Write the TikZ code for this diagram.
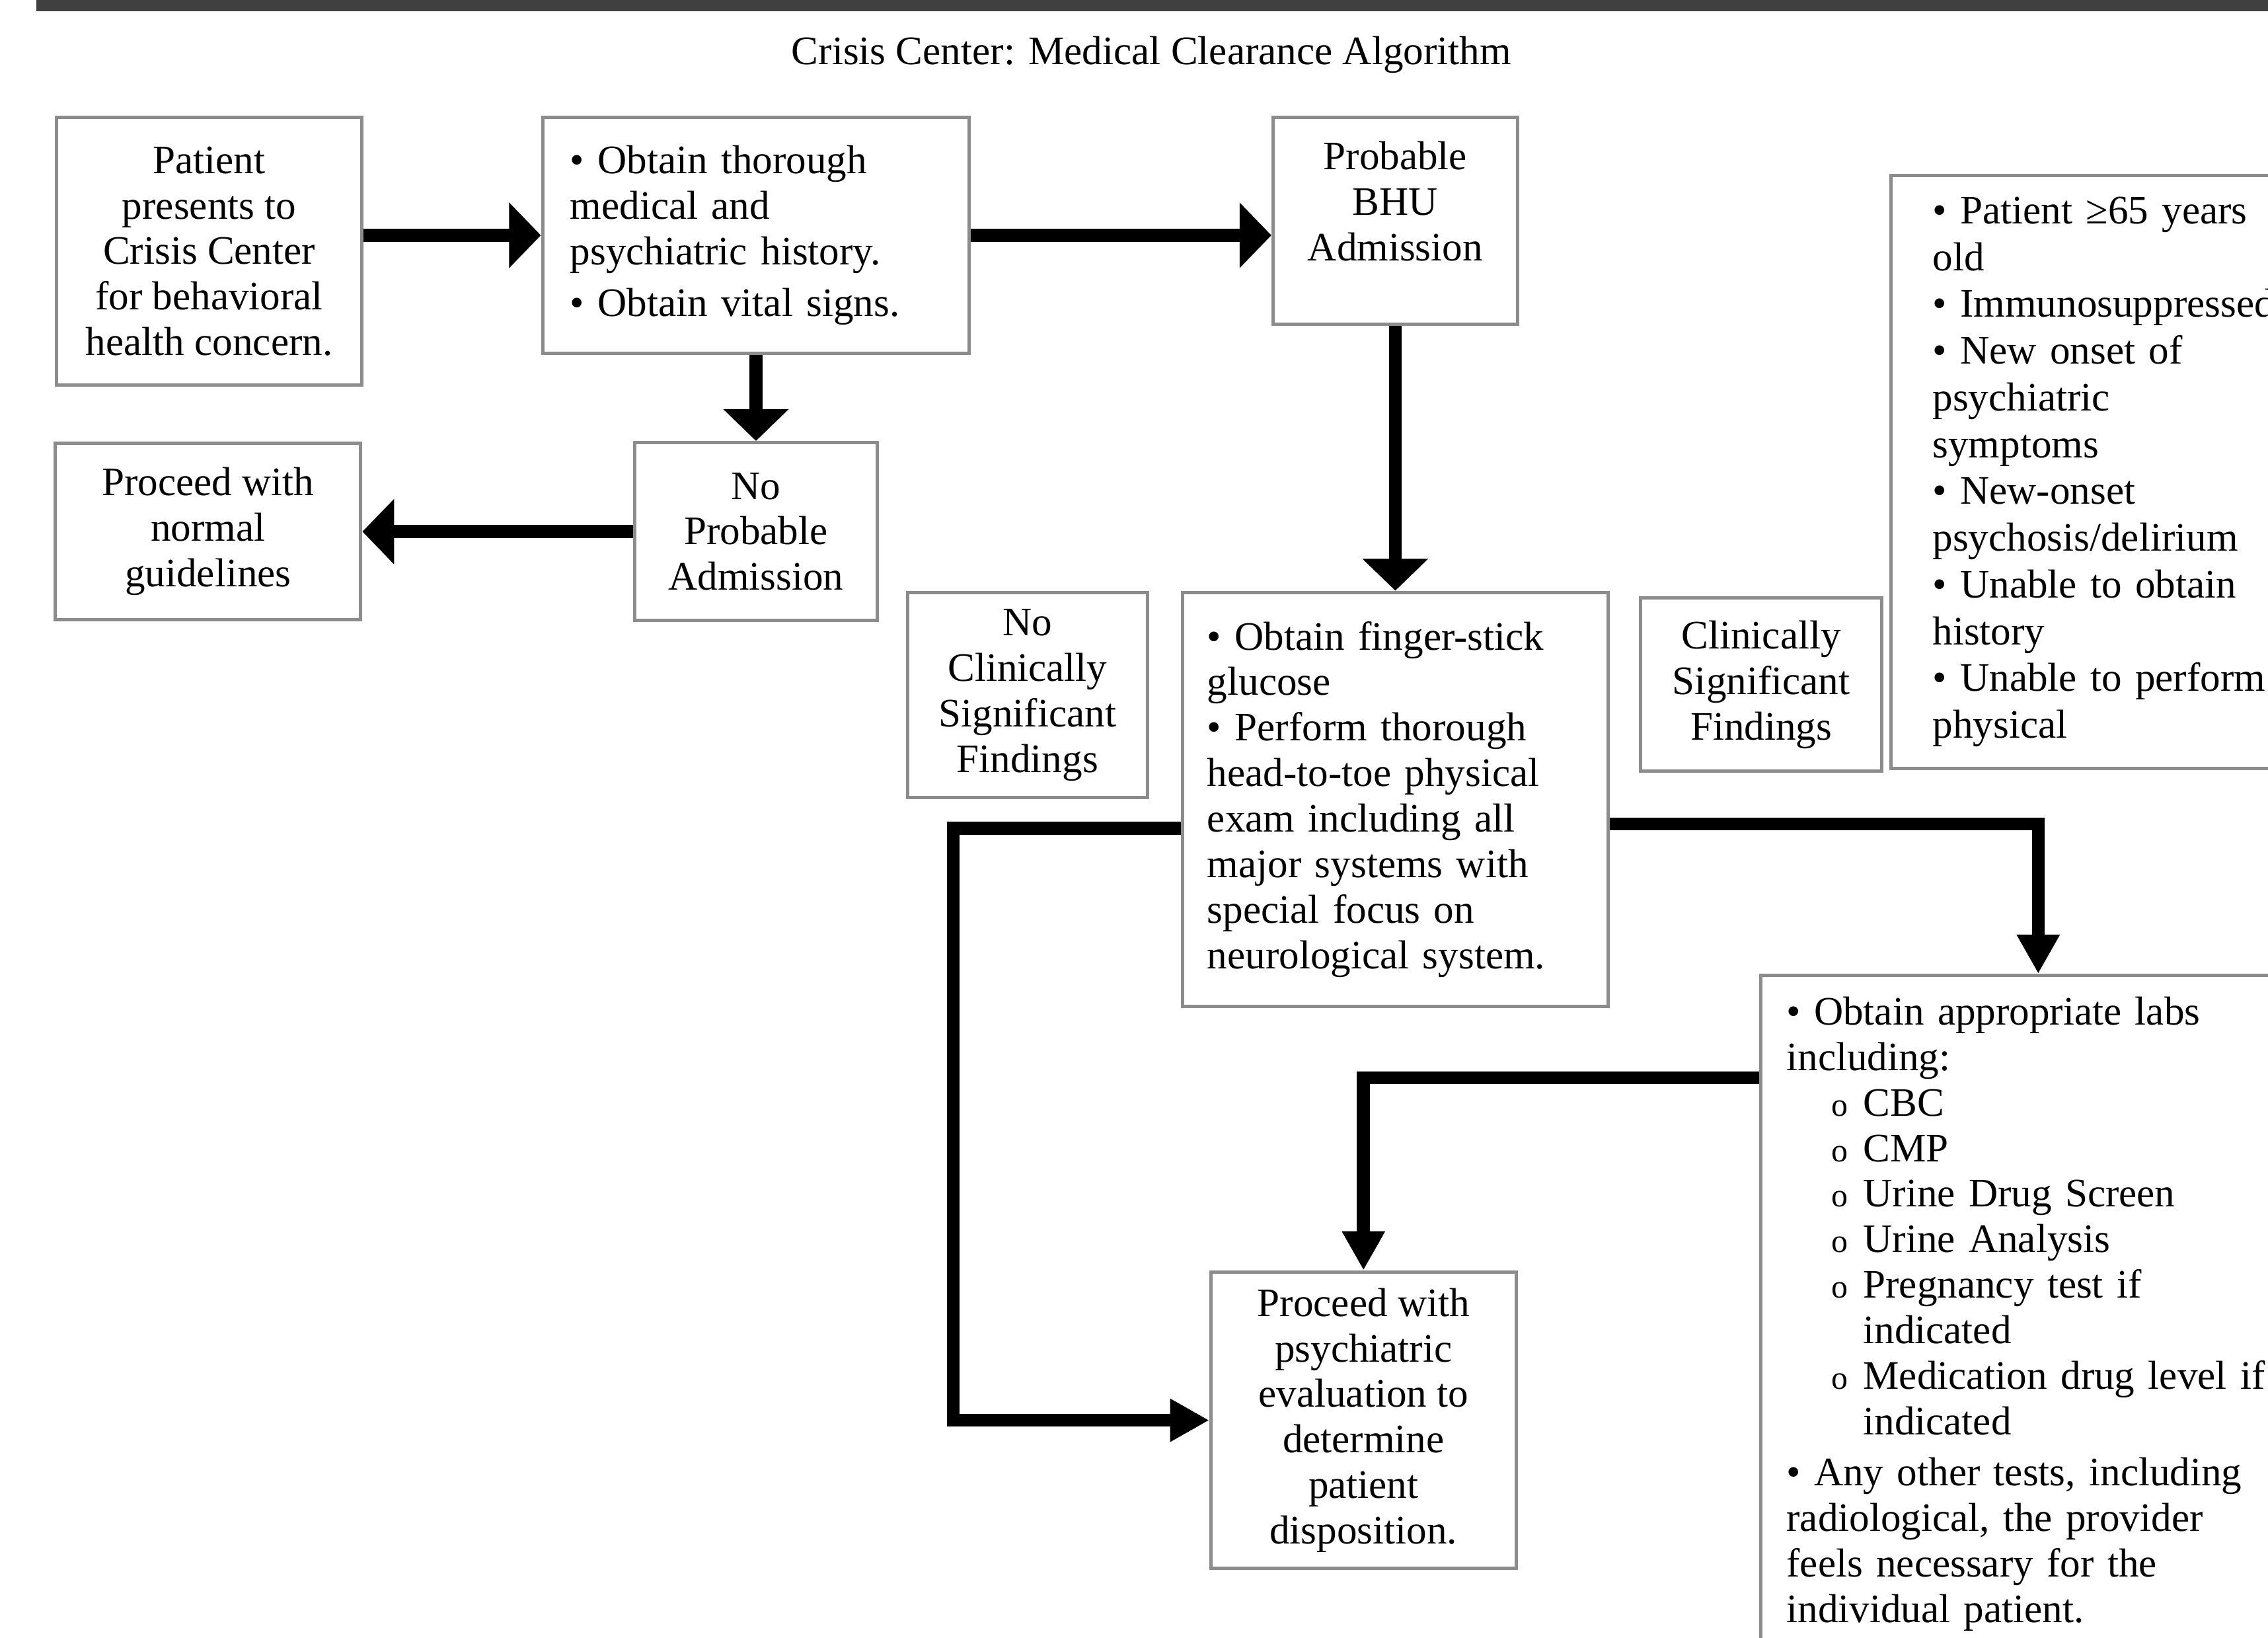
\documentclass[tikz,border=0pt]{standalone}
\usepackage{fontspec}
\setmainfont{Liberation Serif}
\usetikzlibrary{arrows.meta,positioning}
\definecolor{boxGray}{RGB}{140,140,140}
\definecolor{barGray}{RGB}{64,64,64}
\newcommand{\labitem}{\hspace*{6.2mm}\makebox[4.4mm][l]{\fontsize{13pt}{13pt}\selectfont o}}
\tikzset{
  flow box/.style={draw=boxGray,line width=1.3pt,fill=white,align=center,font=\fontsize{15.9pt}{17.9pt}\selectfont,inner sep=0pt},
  flow list/.style={flow box,align=left},
  flow arrow/.style={-{Triangle[length=4.4mm,width=8.8mm]},line width=5.1pt,draw=black},
  flow arrow small/.style={-{Triangle[length=5.4mm,width=5.6mm]},line width=5.1pt,draw=black}
}

\begin{document}
\begin{tikzpicture}[x=0.2mm,y=-0.2mm]
  \useasboundingbox (0,0) rectangle (1568,1132);
  \clip (0,0) rectangle (1568,1132);
  \fill[barGray] (25,0) rectangle (1568,8);
  \node[font=\fontsize{15.9pt}{17.9pt}\selectfont] (title) at (796,38) {Crisis Center: Medical Clearance Algorithm};
  % top row
  \node[flow box,minimum width=4.22cm,minimum height=3.7cm,anchor=north west] (patient) at (38,80) {Patient\\presents to\\Crisis Center\\for behavioral\\health concern.};
  \node[flow list,text width=5.14cm,inner xsep=3.8mm,minimum height=3.26cm,anchor=north west] (history) at (374,80) {• Obtain thorough\\medical and\\psychiatric history.\\[0.8mm]• Obtain vital signs.};
  \node[flow box,minimum width=3.38cm,minimum height=2.86cm,anchor=north west] (bhu) at (879,80) {Probable\\BHU\\Admission\\[-2.7mm]\strut};
  \node[flow list,text width=5.2cm,inner xsep=5.8mm,minimum height=8.2cm,anchor=north west,font=\fontsize{15.9pt}{18.4pt}\selectfont] (risk) at (1306,120) {• Patient ≥65 years\\old\\• Immunosuppressed\\• New onset of\\psychiatric\\symptoms\\• New-onset\\psychosis/delirium\\• Unable to obtain\\history\\• Unable to perform\\physical};
  % no admission branch
  \node[flow box,minimum width=3.36cm,minimum height=2.46cm,below=1.19cm of history] (noadmit) {No\\Probable\\Admission};
  \node[flow box,minimum width=4.22cm,minimum height=2.44cm,left=3.74cm of noadmit] (normal) {Proceed with\\normal\\guidelines};
  % exam and findings
  \node[flow list,text width=5.2cm,inner xsep=3.4mm,minimum height=5.72cm,below=3.66cm of bhu] (exam) {• Obtain finger-stick\\glucose\\• Perform thorough\\head-to-toe physical\\exam including all\\major systems with\\special focus on\\neurological system.};
  \node[flow box,minimum width=3.32cm,minimum height=2.84cm,left=4.4mm of exam.north west,anchor=north east] (noclin) {No\\Clinically\\Significant\\Findings};
  \node[flow box,minimum width=3.34cm,minimum height=2.4cm,anchor=north west] (clin) at (1133,412) {Clinically\\Significant\\Findings};
  \node[flow list,text width=6.96cm,inner xsep=3.6mm,minimum height=9.36cm,anchor=north west] (labs) at (1216,673) {• Obtain appropriate labs\\including:\\\labitem CBC\\\labitem CMP\\\labitem Urine Drug Screen\\\labitem Urine Analysis\\\labitem Pregnancy test if\\\hspace*{10.6mm}indicated\\\labitem Medication drug level if\\\hspace*{10.6mm}indicated\\[0.8mm]• Any other tests, including\\radiological, the provider\\feels necessary for the\\individual patient.};
  \node[flow box,minimum width=4.22cm,minimum height=4.1cm,anchor=north west] (psych) at (836,878) {Proceed with\\psychiatric\\evaluation to\\determine\\patient\\disposition.};
  % connectors
  \draw[flow arrow] (patient.east |- history.west) -- (history.west);
  \draw[flow arrow] (history.east) -- (history.east -| bhu.west);
  \draw[flow arrow] (history.south) -- (noadmit.north);
  \draw[flow arrow] (noadmit.west) -- (normal.east);
  \draw[flow arrow] (bhu.south) -- (exam.north);
  \draw[flow arrow small] ([yshift=-4mm]exam.west) -| ([xshift=-3.54cm]psych.west) -- (psych.west);
  \draw[flow arrow small] ([yshift=-3.4mm]exam.east) -| (labs.north);
  \draw[flow arrow small] ([yshift=-1.44cm]labs.north west) -| (psych.north);
\end{tikzpicture}
\end{document}
